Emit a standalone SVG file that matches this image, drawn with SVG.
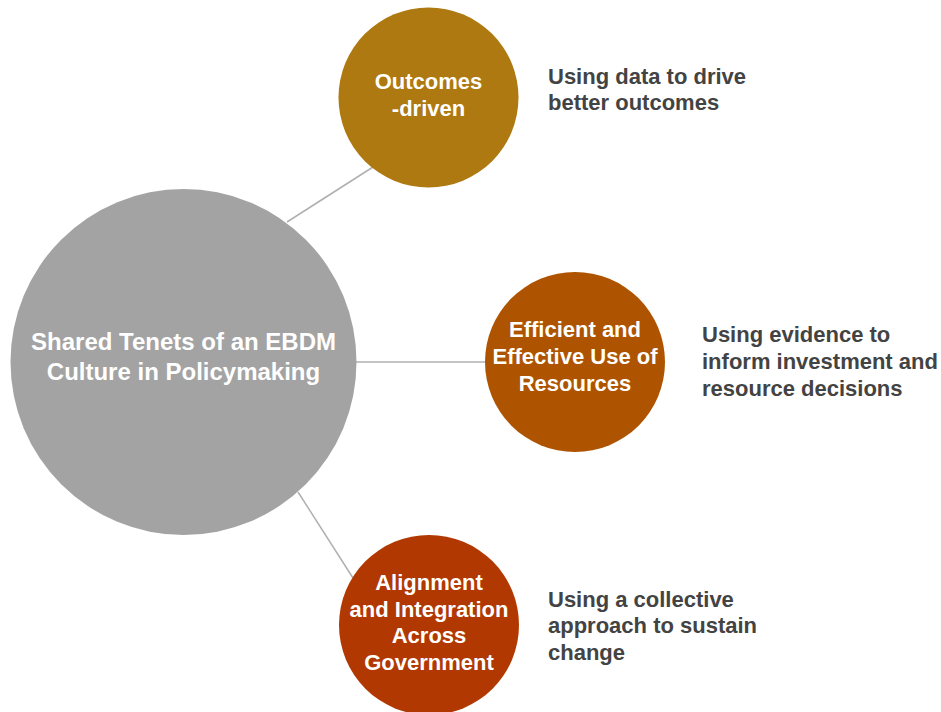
<svg xmlns="http://www.w3.org/2000/svg" width="941" height="712" viewBox="0 0 941 712">
  <style>
    .bg { fill: #ffffff; }
    .link { stroke: #b0b0b0; stroke-width: 1.5; fill: none; }
    .node-label { font-family: "Liberation Sans", Arial, sans-serif; font-weight: bold; fill: #ffffff; text-anchor: middle; }
    .note { font-family: "Liberation Sans", Arial, sans-serif; font-weight: bold; font-size: 22px; fill: #434343; }
  </style>
  <rect class="bg" x="0" y="0" width="941" height="712"/>

  <g id="connectors">
    <line class="link" x1="287" y1="222" x2="373" y2="167"/>
    <line class="link" x1="355" y1="362" x2="486" y2="362"/>
    <line class="link" x1="298" y1="492" x2="353" y2="578"/>
  </g>

  <g id="node-core">
    <circle cx="183.5" cy="362" r="173" fill="#a3a3a3"/>
    <text class="node-label" font-size="24" x="183.5" y="350">Shared Tenets of an EBDM</text>
    <text class="node-label" font-size="24" x="183.5" y="380">Culture in Policymaking</text>
  </g>

  <g id="node-outcomes">
    <circle cx="428.5" cy="97.5" r="90" fill="#ad7910"/>
    <text class="node-label" font-size="22" x="428.5" y="89">Outcomes</text>
    <text class="node-label" font-size="22" x="428.5" y="116">-driven</text>
  </g>

  <g id="node-resources">
    <circle cx="575" cy="362" r="90" fill="#ae5400"/>
    <text class="node-label" font-size="22" x="575" y="337">Efficient and</text>
    <text class="node-label" font-size="22" x="575" y="364">Effective Use of</text>
    <text class="node-label" font-size="22" x="575" y="391">Resources</text>
  </g>

  <g id="node-alignment">
    <circle cx="429" cy="625" r="90" fill="#b13800"/>
    <text class="node-label" font-size="22" x="429" y="590">Alignment</text>
    <text class="node-label" font-size="22" x="429" y="617">and Integration</text>
    <text class="node-label" font-size="22" x="429" y="643">Across</text>
    <text class="node-label" font-size="22" x="429" y="670">Government</text>
  </g>

  <g id="note-outcomes">
    <text class="note" x="548" y="84">Using data to drive</text>
    <text class="note" x="548" y="110">better outcomes</text>
  </g>

  <g id="note-resources">
    <text class="note" x="702" y="342">Using evidence to</text>
    <text class="note" x="702" y="369">inform investment and</text>
    <text class="note" x="702" y="396">resource decisions</text>
  </g>

  <g id="note-alignment">
    <text class="note" x="548" y="607">Using a collective</text>
    <text class="note" x="548" y="633">approach to sustain</text>
    <text class="note" x="548" y="660">change</text>
  </g>
</svg>
